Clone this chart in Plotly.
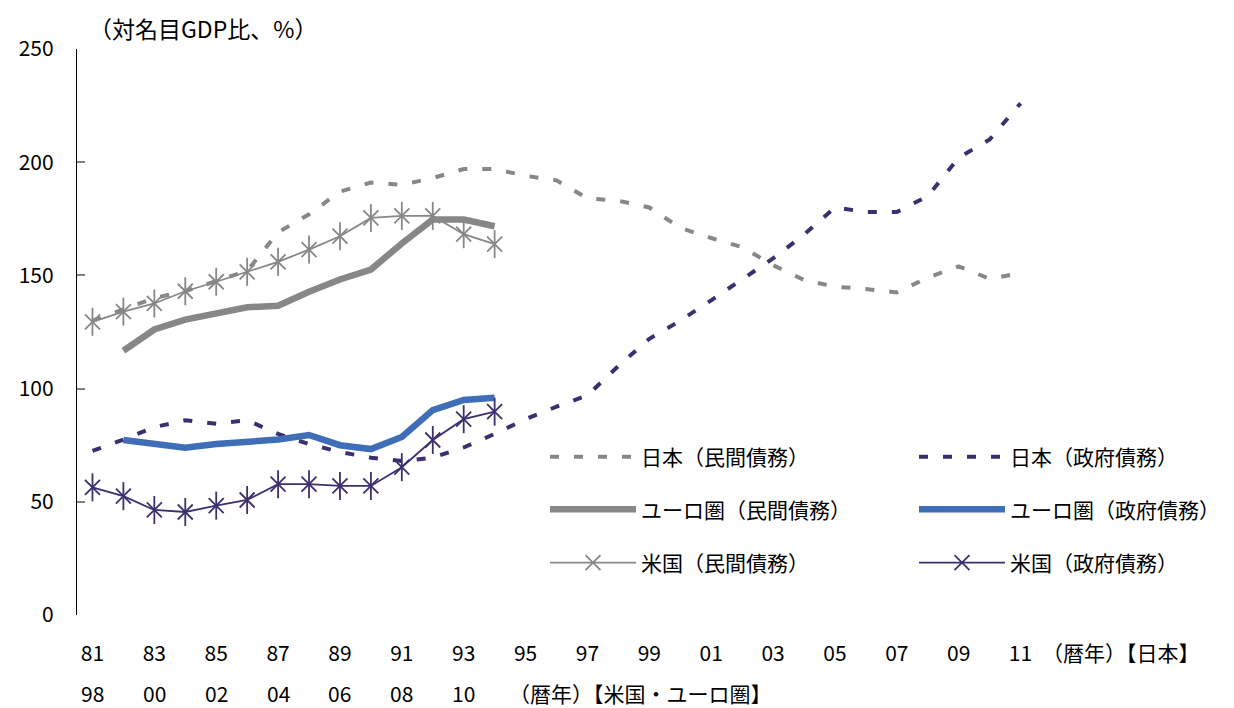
import plotly.graph_objects as go

# Japan, calendar years 1981-2011 (% of nominal GDP)
japan_years = list(range(1981, 2012))
japan_private = [130, 135, 140, 143, 147.5, 152, 169, 177, 187, 191, 190, 193, 197, 197,
                 194, 192, 184, 183, 180, 171, 166.5, 162.5, 154.5, 148, 145, 144, 142.5,
                 149, 154, 148.5, 151]
japan_gov = [72.5, 77.5, 83, 86, 84.5, 86, 80, 75.5, 72, 69.5, 68, 69.5, 74, 80,
             86.5, 92, 97, 110, 122, 130, 139, 148.5, 157.5, 168, 180, 178, 178,
             185, 202, 210, 226]

# United States, 1998-2011
us_years = list(range(1998, 2012))
us_private = [129.5, 134, 137.6, 143, 147.2, 151.6, 156, 161.4, 167.3, 175.4, 176.3,
              176.3, 168.2, 163.8]
us_gov = [56.4, 52.5, 46.4, 45.5, 48.3, 50.8, 57.8, 57.8, 57, 57, 65.3, 77.3, 86.5, 89.8]

# Euro area, 1999-2011
euro_years = list(range(1999, 2012))
euro_private = [116.7, 126.1, 130.5, 133.5, 135.9, 136.6, 142.8, 148.2, 152.6, 164.1,
                174.7, 174.7, 171.7]
euro_gov = [77.3, 75.5, 73.9, 75.5, 76.5, 77.5, 79.5, 75, 73.3, 78.6, 90.5, 95, 96]

# US / euro-area years share the axis with Japan shifted by 17 years (1998 -> 1981)
LAG = 17
us_x = [y - LAG for y in us_years]
euro_x = [y - LAG for y in euro_years]

japan_ticks = list(range(1981, 2012, 2))
japan_ticktext = [f"{y % 100:02d}" for y in japan_ticks]
us_ticks = list(range(1998, 2011, 2))
us_ticktext = [f"{y % 100:02d}" for y in us_ticks]

GRAY = "#878787"
NAVY = "#3a306e"
BLUE = "#3f6db8"
FONT = "Noto Sans CJK JP"
DASH = "9px,15px"
TXT = dict(family=FONT, size=21, color="#000000")
ROW2_Y = -0.1378  # second row of year labels (US / euro area)

fig = go.Figure()

fig.add_trace(go.Scatter(
    x=japan_years, y=japan_private, mode="lines", name="日本（民間債務）",
    line=dict(color=GRAY, width=4, dash=DASH), legend="legend"))
fig.add_trace(go.Scatter(
    x=japan_years, y=japan_gov, mode="lines", name="日本（政府債務）",
    line=dict(color=NAVY, width=4, dash=DASH), legend="legend"))


def star_traces(x, y, color, name):
    """Line with six-armed star markers: an X glyph plus a vertical bar."""
    main = go.Scatter(
        x=x, y=y, mode="lines+markers", name=name,
        line=dict(color=color, width=1.8),
        marker=dict(symbol="x-thin-open", size=15, color=color,
                    line=dict(color=color, width=1.8)),
        legend="legend3")
    bar = go.Scatter(
        x=x, y=y, mode="markers", showlegend=False, hoverinfo="skip",
        marker=dict(symbol="line-ns-open", size=20, color=color,
                    line=dict(color=color, width=1.8)))
    return main, bar


for tr in star_traces(us_x, us_private, GRAY, "米国（民間債務）"):
    fig.add_trace(tr)

fig.add_trace(go.Scatter(
    x=euro_x, y=euro_private, mode="lines", name="ユーロ圏（民間債務）",
    line=dict(color=GRAY, width=6.5), legend="legend2"))
fig.add_trace(go.Scatter(
    x=euro_x, y=euro_gov, mode="lines", name="ユーロ圏（政府債務）",
    line=dict(color=BLUE, width=6.5), legend="legend2"))

for tr in star_traces(us_x, us_gov, NAVY, "米国（政府債務）"):
    fig.add_trace(tr)

legend_common = dict(
    orientation="h", xanchor="left", yanchor="middle", x=0.488,
    bgcolor="rgba(0,0,0,0)", itemwidth=86, entrywidth=268,
    font=TXT, itemclick=False, itemdoubleclick=False,
)

annotations = [
    dict(text="（対名目GDP比、%）", xref="paper", yref="paper", x=0.0105, y=1.037,
         xanchor="left", yanchor="middle", showarrow=False,
         font=dict(family=FONT, size=23, color="#000000")),
    dict(text="（暦年）【日本】", xref="paper", yref="paper", x=1.004, y=-0.0654,
         xanchor="left", yanchor="middle", showarrow=False, font=TXT),
    dict(text="（暦年）【米国・ユーロ圏】", xref="paper", yref="paper", x=0.448, y=ROW2_Y,
         xanchor="left", yanchor="middle", showarrow=False, font=TXT),
]
for yr, txt in zip(us_ticks, us_ticktext):
    annotations.append(dict(
        text=txt, x=yr - LAG, xref="x", y=ROW2_Y, yref="paper",
        xanchor="center", yanchor="middle", showarrow=False, font=TXT))

fig.update_layout(
    width=1234, height=708,
    margin=dict(l=77, r=198, t=49, b=93, autoexpand=False),
    paper_bgcolor="white", plot_bgcolor="white",
    font=TXT,
    legend=dict(**legend_common, y=0.279),
    legend2=dict(**legend_common, y=0.186),
    legend3=dict(**legend_common, y=0.092),
    annotations=annotations,
    xaxis=dict(
        range=[1980.5, 2011.5], showline=False, showgrid=False, zeroline=False,
        ticks="", tickvals=japan_ticks, ticktext=japan_ticktext,
        ticklabelstandoff=24, tickfont=TXT,
    ),
    yaxis=dict(
        range=[0, 250], tickvals=[0, 50, 100, 150, 200, 250],
        showline=True, linecolor="#000000", linewidth=1.2,
        ticks="inside", ticklen=8, tickcolor="#808080", tickwidth=1.5,
        showgrid=False, zeroline=False, ticklabelstandoff=18, tickfont=TXT,
    ),
    showlegend=True,
)

fig.write_html("out.html")
